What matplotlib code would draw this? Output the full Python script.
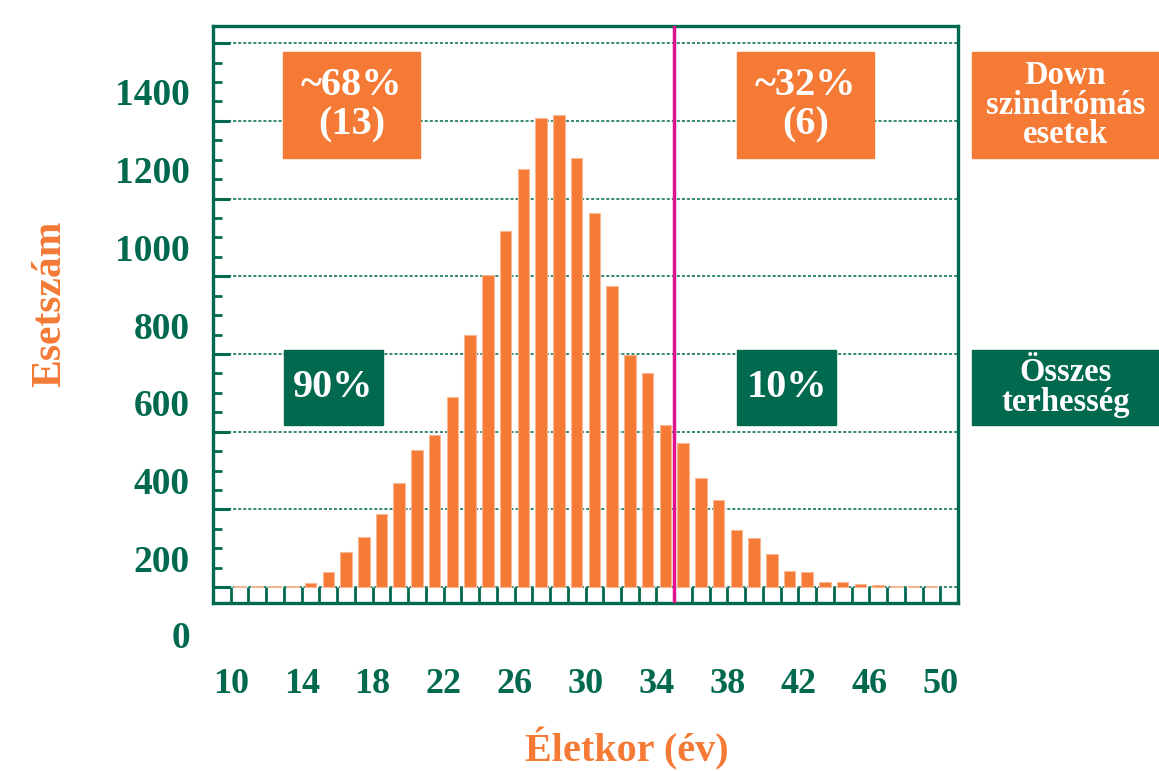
import matplotlib.pyplot as plt
import numpy as np
from matplotlib.patches import Rectangle

plt.rcParams["font.family"] = ["Liberation Serif", "DejaVu Serif"]
plt.rcParams["font.weight"] = "bold"

ORANGE = "#F47A35"
GREEN = "#00694E"
MAGENTA = "#E2128F"

# anyai életkor (év) és esetszám
ages = np.arange(10, 50)
counts = [3, 3, 3, 3, 10, 39, 90, 128, 188, 267,
          353, 392, 488, 649, 803, 917, 1076, 1206, 1214, 1105,
          962, 774, 597, 550, 416, 372, 280, 223, 146, 127,
          85, 41, 39, 13, 13, 9, 6, 3, 3, 3]

x_ticks = [10, 14, 18, 22, 26, 30, 34, 38, 42, 46, 50]
y_labels = [0, 200, 400, 600, 800, 1000, 1200, 1400]
grid_levels = [0, 200, 400, 600, 800, 1000, 1200, 1400]
cut_age = 35

# dobozok: (szöveg, bal, alsó, szélesség, magasság) pixelben, szín, betűméret
boxes = [
    ("~68%\n(13)", 283, 613, 137, 106, ORANGE, 29),
    ("~32%\n(6)", 737, 613, 137, 106, ORANGE, 29),
    ("Down\nszindrómás\nesetek", 972, 613, 187, 106, ORANGE, 23.5),
    ("90%", 284, 346, 99, 75, GREEN, 29),
    ("10%", 737, 346, 99, 75, GREEN, 29),
    ("Összes\nterhesség", 972, 346, 187, 75, GREEN, 23.5),
]

W, H = 1159, 771
fig = plt.figure(figsize=(W / 100, H / 100), dpi=100)
ax = fig.add_axes([213 / W, 168 / H, 745 / W, 577 / H])

ax.bar(ages + 0.5, counts, width=0.65, color=ORANGE,
       edgecolor="#F9B894", linewidth=0.8, zorder=2)
ax.axvline(cut_age, color=MAGENTA, lw=2.5, zorder=4)

ax.set_xlim(9, 51)
ax.set_ylim(-41, 1444)

for s in ax.spines.values():
    s.set_color(GREEN)
    s.set_linewidth(2.4)

ax.set_xticks(x_ticks)
ax.set_xticks(np.arange(10, 51), minor=True)
ax.set_xticklabels([str(t) for t in x_ticks], fontsize=26, color=GREEN,
                   fontweight="bold")
ax.tick_params(axis="x", which="both", direction="in", length=11.5,
               width=2.0, color=GREEN, pad=47)

ax.set_yticks(grid_levels)
ax.set_yticks(np.arange(0, 1445, 50), minor=True)
ax.set_yticklabels([])
ax.tick_params(axis="y", which="major", direction="in", length=12.5,
               width=2.2, color=GREEN)
ax.tick_params(axis="y", which="minor", direction="in", length=6.5,
               width=2.0, color=GREEN)
ax.yaxis.grid(True, which="major", color=GREEN, lw=1.1,
              linestyle=(0, (2, 1.3)))
ax.set_axisbelow(True)

# függőleges tengely feliratai, a rácsvonalak között
ytr = ax.get_yaxis_transform()
for v in y_labels:
    ypos = v - 136 if v else -132
    ax.text(-0.031, ypos, str(v), transform=ytr, ha="right", va="center",
            fontsize=27, color=GREEN, fontweight="bold", clip_on=False)

fig.text(50 / W, 1 - 304 / H, "Esetszám", rotation=90, ha="center",
         va="center", fontsize=30, color=ORANGE, fontweight="bold")
fig.text(627 / W, 1 - 749 / H, "Életkor (év)", ha="center", va="center",
         fontsize=29, color=ORANGE, fontweight="bold")

for text, left, bottom, w, h, col, fs in boxes:
    fig.patches.append(Rectangle((left / W, bottom / H), w / W, h / H,
                                 transform=fig.transFigure, color=col,
                                 zorder=5))
    fig.text((left + w / 2) / W, (bottom + h / 2) / H, text, ha="center",
             va="center", fontsize=fs, color="white", fontweight="bold",
             linespacing=0.95 if fs < 25 else 1.1, zorder=6)

fig.savefig("out.png", dpi=100)
